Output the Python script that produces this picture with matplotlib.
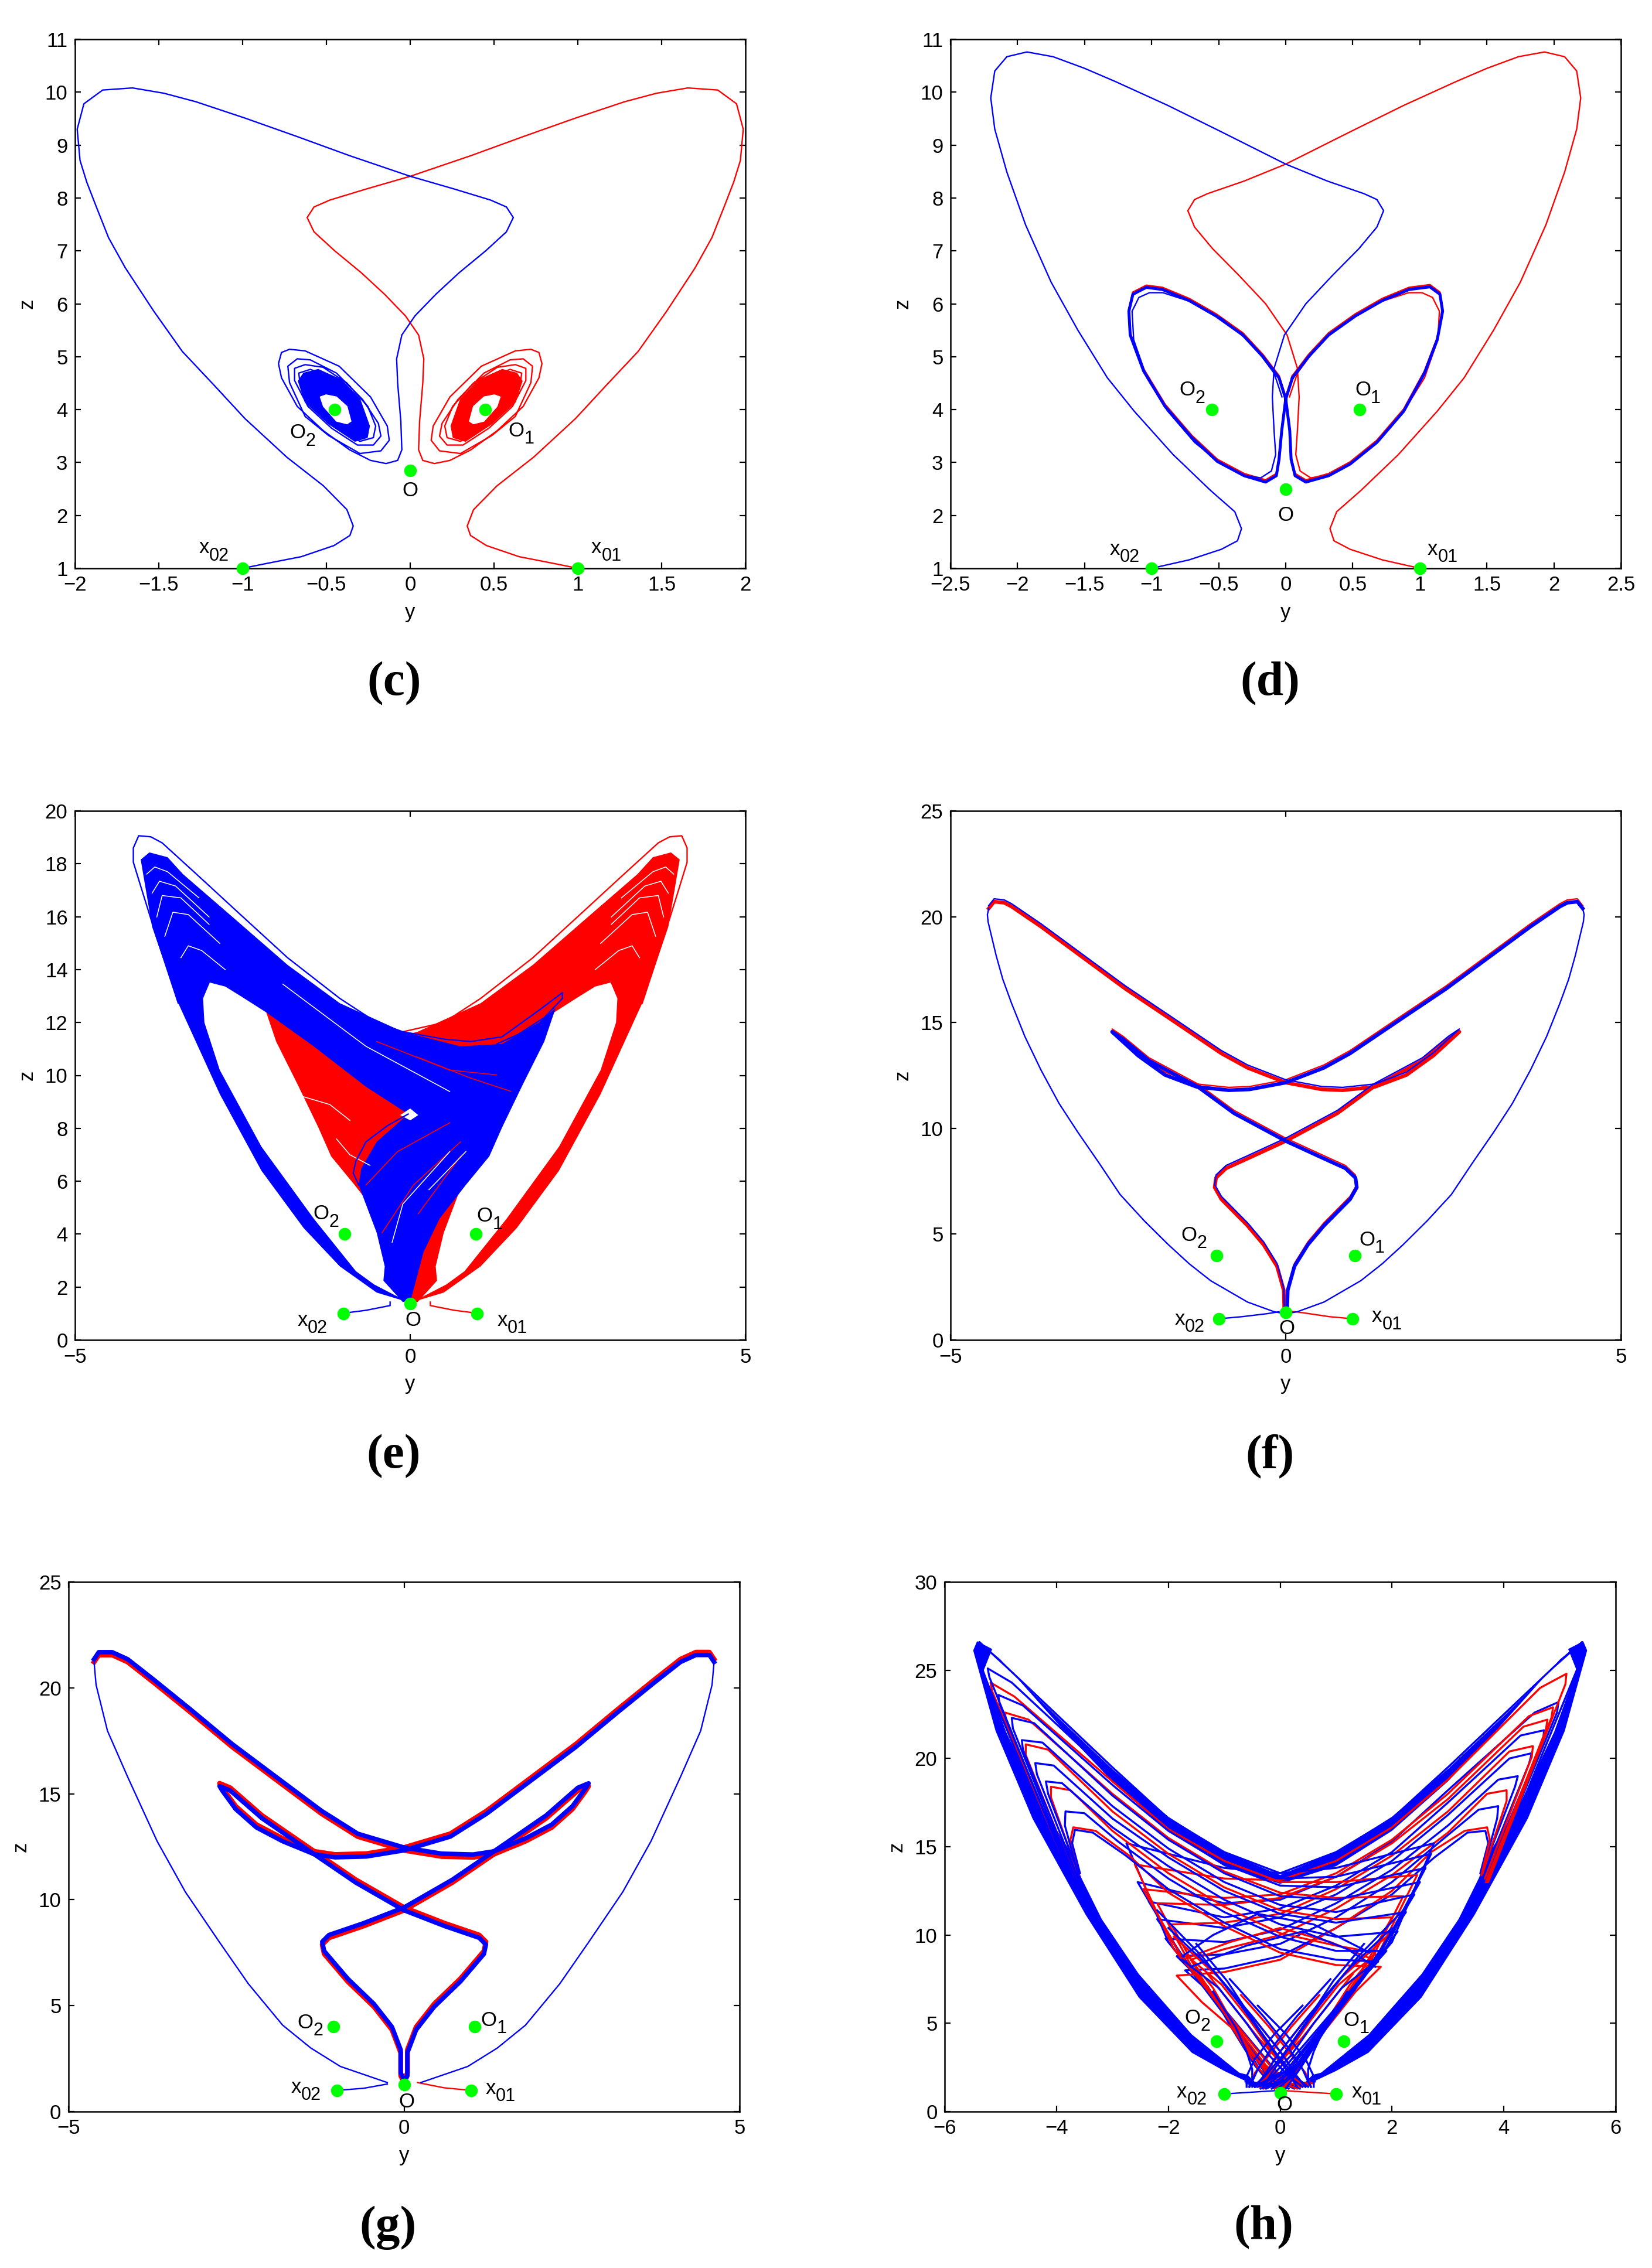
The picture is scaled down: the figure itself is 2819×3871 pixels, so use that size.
import matplotlib
matplotlib.use('Agg')
import matplotlib.pyplot as plt
from matplotlib.transforms import offset_copy

RED = '#ff0000'
BLUE = '#0000ff'
GREEN = '#00ff00'

plt.rcParams['font.family'] = ['Liberation Sans', 'DejaVu Sans']

# ---- panel (c)
c_red_y = [1, .86, .65, .455, .36, .34, .378, .518, .736, .986, 1.17, 1.36, 1.53, 1.7, 1.8, 1.875, 1.93, 1.97, 1.987, 1.947, 1.835, 1.657, 1.47, 1.28, .986, .674, .362, 0, -.262, -.48, -.574, -.615, -.574, -.45, -.293, -.153, -.028, .05, .081, .075, .056, .05, .075, .144, .237, .362, .518, .674, .768, .786, .768, .72, .627, .424, .237, .137, .125, .175, .3, .487, .627, .72, .73, .674, .596, .44, .284, .19, .175, .22, .315, .47, .61, .69, .69, .627, .52, .377, .253, .206, .22, .3, .456, .58, .658, .665, .596, .456]
c_red_z = [1, 1.09, 1.22, 1.43, 1.62, 1.8, 2.11, 2.56, 3.1, 3.83, 4.46, 5.1, 5.86, 6.68, 7.25, 7.85, 8.3, 8.71, 9.3, 9.78, 10.04, 10.08, 9.98, 9.82, 9.51, 9.16, 8.8, 8.41, 8.17, 7.96, 7.83, 7.63, 7.36, 7.0, 6.59, 6.18, 5.77, 5.41, 4.96, 4.5, 3.78, 3.24, 3.04, 2.98, 3.04, 3.24, 3.6, 4.06, 4.6, 4.87, 5.08, 5.14, 5.11, 4.82, 4.24, 3.69, 3.42, 3.22, 3.17, 3.51, 3.87, 4.51, 4.82, 4.96, 4.94, 4.69, 4.19, 3.74, 3.5, 3.33, 3.33, 3.65, 4.06, 4.55, 4.78, 4.85, 4.8, 4.5, 4.06, 3.69, 3.47, 3.4, 3.69, 4.06, 4.51, 4.69, 4.76, 4.6]
c_blue_y = [-1, -.86, -.65, -.455, -.36, -.34, -.378, -.518, -.736, -.986, -1.17, -1.36, -1.53, -1.7, -1.8, -1.875, -1.93, -1.97, -1.987, -1.947, -1.835, -1.657, -1.47, -1.28, -.986, -.674, -.362, 0, .262, .48, .574, .615, .574, .45, .293, .153, .028, -.05, -.081, -.075, -.056, -.05, -.075, -.144, -.237, -.362, -.518, -.674, -.768, -.786, -.768, -.72, -.627, -.424, -.237, -.137, -.125, -.175, -.3, -.487, -.627, -.72, -.73, -.674, -.596, -.44, -.284, -.19, -.175, -.22, -.315, -.47, -.61, -.69, -.69, -.627, -.52, -.377, -.253, -.206, -.22, -.3, -.456, -.58, -.658, -.665, -.596, -.456]
c_blue_z = c_red_z
c_core_y = [.243, .256, .33, .487, .627, .668, .636, .549, .409, .3]
c_core_z = [3.69, 3.47, 3.4, 3.73, 4.14, 4.54, 4.69, 4.76, 4.56, 4.2]
c_hole_y = [.353, .377, .44, .518, .537, .502, .44, .377]
c_hole_z = [3.78, 3.73, 3.78, 4.06, 4.24, 4.28, 4.24, 4.06]
c_core_blue_y = [-.243, -.256, -.33, -.487, -.627, -.668, -.636, -.549, -.409, -.3]
c_hole_blue_y = [-.353, -.377, -.44, -.518, -.537, -.502, -.44, -.377]

# ---- panel (d)
d_red_y = [1, .72, .48, .36, .33, .38, .56, .84, 1.13, 1.33, 1.55, 1.75, 1.94, 2.08, 2.17, 2.2, 2.17, 2.08, 1.93, 1.735, 1.5, 1.27, .88, .48, 0, -.31, -.585, -.68, -.73, -.68, -.545, -.35, -.15, .01, .087, .1, .087, .075, .107, .186, .32, .48, .68, .88, 1.035, 1.134, 1.146, 1.095, 1.016, .917, .72, .48, .245, .087, .028]
d_red_z = [1, 1.16, 1.36, 1.52, 1.75, 2.07, 2.47, 3.15, 3.97, 4.6, 5.5, 6.41, 7.49, 8.49, 9.3, 9.89, 10.4, 10.67, 10.76, 10.67, 10.45, 10.2, 9.75, 9.25, 8.64, 8.32, 8.08, 7.97, 7.76, 7.45, 7.04, 6.54, 6.0, 5.41, 4.78, 4.24, 3.6, 3.15, 2.84, 2.71, 2.76, 2.97, 3.38, 3.97, 4.6, 5.32, 5.86, 6.12, 6.21, 6.21, 6.05, 5.73, 5.23, 4.69, 4.24]
d_blue_y = [-1, -.72, -.48, -.36, -.33, -.38, -.56, -.84, -1.13, -1.33, -1.55, -1.75, -1.94, -2.08, -2.17, -2.2, -2.17, -2.08, -1.93, -1.735, -1.5, -1.27, -.88, -.48, 0, .31, .585, .68, .73, .68, .545, .35, .15, -.01, -.087, -.1, -.087, -.075, -.107, -.186, -.32, -.48, -.68, -.88, -1.035, -1.134, -1.146, -1.095, -1.016, -.917, -.72, -.48, -.245, -.087, -.028]
d_blue_z = d_red_z
d_cycle_y = [.05, .17, .32, .52, .72, .92, 1.075, 1.15, 1.17, 1.13, 1.035, .88, .68, .48, .32, .15, .07, .04, .03, 0, -.05, -.17, -.32, -.52, -.72, -.92, -1.04, -1.14, -1.17, -1.16, -1.06, -.9, -.7, -.51, -.31, -.15, -.07, -.05, -.03, 0, .05]
d_cycle_z = [4.6, 5.0, 5.41, 5.77, 6.06, 6.27, 6.32, 6.18, 5.86, 5.32, 4.69, 3.97, 3.38, 2.97, 2.75, 2.63, 2.75, 3.06, 3.6, 4.2, 4.6, 5.0, 5.41, 5.77, 6.06, 6.27, 6.31, 6.18, 5.86, 5.41, 4.73, 4.06, 3.47, 3.02, 2.75, 2.63, 2.75, 3.06, 3.6, 4.2, 4.6]

# ---- panel (e)
e_blue_poly_y = [-.03, -.5, -1.05, -1.59, -2.22, -2.84, -3.46, -3.85, -4.02, -3.89, -3.62, -3.39, -2.61, -1.83, -1.05, -.11, .75, 1.37, 1.92, 2.17, 2.0, 1.68, 1.37, 1.18, .83, .44, .2, .01, -.11, -.4, -.38, -.5, -.77, -.73, -.5, -.03, -.66, -1.44, -2.14, -2.53, -2.76, -2.99, -3.09, -3.07, -2.84, -2.22, -1.44, -.81, -.54]
e_blue_poly_z = [1.43, 1.79, 2.78, 4.23, 6.4, 9.29, 12.73, 15.62, 18.16, 18.43, 18.25, 17.61, 15.9, 14.18, 12.73, 11.65, 11.1, 11.19, 12.0, 12.55, 11.28, 9.66, 8.03, 6.94, 5.86, 4.59, 3.33, 1.52, 1.43, 2.24, 2.78, 4.05, 5.86, 6.49, 7.49, 8.54, 9.57, 11.1, 12.37, 13.0, 13.36, 13.51, 12.91, 12.0, 10.2, 7.31, 4.59, 2.6, 2.1]
e_red_poly_y = [.03, .5, 1.05, 1.59, 2.22, 2.84, 3.46, 3.85, 4.02, 3.89, 3.62, 3.39, 2.61, 1.83, 1.05, .11, -.75, -1.37, -1.92, -2.17, -2.0, -1.68, -1.37, -1.18, -.83, -.44, -.2, -.01, .11, .4, .38, .5, .77, .73, .5, .03, .66, 1.44, 2.14, 2.53, 2.76, 2.99, 3.09, 3.07, 2.84, 2.22, 1.44, .81, .54]
e_red_poly_z = e_blue_poly_z
e_blue_edge_y = [-3.46, -3.78, -4.01, -4.13, -4.13, -4.05, -3.87, -3.7, -3.15, -2.61, -1.83, -1.05, -.5, -.11, .51, .9, 1.37, 1.92, 2.27, 2.27, 2.0, 1.61, 1.29]
e_blue_edge_z = [12.73, 15.2, 17.07, 18.06, 18.6, 19.06, 19.02, 18.79, 17.52, 16.26, 14.45, 12.91, 12.0, 11.65, 11.37, 11.28, 11.46, 12.46, 13.13, 12.91, 12.19, 11.55, 11.19]
e_red_edge_y = [3.46, 3.78, 4.01, 4.13, 4.13, 4.05, 3.87, 3.7, 3.15, 2.61, 1.83, 1.05, .5, -.11]
e_red_edge_z = [12.73, 15.2, 17.07, 18.06, 18.6, 19.06, 19.02, 18.79, 17.52, 16.26, 14.45, 12.91, 12.0, 11.65]
e_blue_arc_y = [-.03, -.34, -.66, -.81, -.85, -.77]
e_blue_arc_z = [8.54, 8.1, 7.49, 6.76, 6.31, 5.86]
e_tail_blue_y = [-1, -.66, -.3, -.3]
e_tail_red_y = [1, .66, .3, .3]
e_tail_z = [1.01, 1.12, 1.3, 1.43]
e_white_y = [[-3.78, -3.7, -3.42, -3.0], [-3.66, -3.54, -3.31, -2.84], [-3.85, -3.74, -3.5, -3.0], [-3.42, -3.31, -3.11, -2.76], [-3.93, -3.81, -3.62, -3.15], [-1.9, -.66, .59], [-.27, -.11, .59], [.28, .83],
             [3.78, 3.7, 3.42, 3.0], [3.66, 3.54, 3.31, 2.84], [3.85, 3.74, 3.5, 3.0], [3.42, 3.31, 3.11, 2.76], [3.93, 3.81, 3.62, 3.15], [-1.6, -1.2, -.9], [-1.1, -.9, -.6]]
e_white_z = [[15.99, 16.8, 16.71, 15.71], [15.26, 16.17, 16.08, 14.99], [16.89, 17.34, 17.16, 15.99], [14.45, 14.9, 14.72, 14.0], [17.61, 17.88, 17.7, 16.71], [13.45, 11.1, 9.39], [3.69, 5.14, 7.12], [5.68, 7.12],
             [15.99, 16.8, 16.71, 15.71], [15.26, 16.17, 16.08, 14.99], [16.89, 17.34, 17.16, 15.99], [14.45, 14.9, 14.72, 14.0], [17.61, 17.88, 17.7, 16.71], [9.2, 8.9, 8.3], [7.6, 7.0, 6.6]]
e_strand_y = [[-.66, -.19, .59], [-.42, .05, .75], [.12, .75], [-.5, .59, 1.29], [.1, .9, 1.5]]
e_strand_z = [[5.86, 7.12, 8.21], [4.05, 5.86, 7.49], [4.77, 6.94], [11.28, 10.2, 10.02], [10.7, 9.9, 9.4]]
e_diamond_y = [0, .12, 0, -.15]
e_diamond_z = [8.3, 8.5, 8.75, 8.5]

# ---- panel (f): two halves of the same orbit
f_low_right_y = [.06, .17, .57, 1.12, 1.44, 1.75, 2.11, 2.47, 2.78, 3.1, 3.38, 3.65, 3.89, 4.09, 4.22, 4.32, 4.44, 4.45, 4.43]
f_low_right_z = [1.27, 1.33, 1.79, 2.8, 3.6, 4.5, 5.63, 6.87, 8.34, 9.81, 11.17, 12.75, 14.33, 15.91, 17.04, 18.17, 19.76, 20.1, 20.39]
f_low_left_y = [-.06, -.17, -.57, -1.12, -1.44, -1.75, -2.11, -2.47, -2.78, -3.1, -3.38, -3.65, -3.89, -4.09, -4.22, -4.32, -4.44, -4.45, -4.43]
f_low_left_z = f_low_right_z
f_a_y = [4.43, 4.35, 4.2, 4.09, 3.65, 3.02, 2.39, 1.75, .96, .57, 0, -.54, -.85, -1.33, -1.8, -2.2, -2.59, -2.43, -2.04, -1.31, -.77, 0, .57, .89, 1.04, 1.06, .96, .57, .33, .13, .03, .02]
f_a_z = [20.39, 20.71, 20.66, 20.48, 19.53, 18.06, 16.59, 15.23, 13.54, 12.86, 12.16, 11.84, 11.8, 11.96, 12.52, 13.43, 14.56, 14.22, 13.2, 11.96, 10.71, 9.4, 8.57, 8.11, 7.66, 7.21, 6.65, 5.4, 4.5, 3.48, 2.35, 1.33]
f_b_y = [-4.43, -4.35, -4.2, -4.09, -3.65, -3.02, -2.39, -1.75, -.96, -.57, 0, .54, .85, 1.33, 1.8, 2.2, 2.59, 2.43, 2.04, 1.31, .77, 0, -.57, -.89, -1.04, -1.06, -.96, -.57, -.33, -.13, -.03, -.02]
f_b_z = f_a_z
f_tail_red_y = [1, .65, .29, .15, .0]
f_tail_red_z = [1, 1.1, 1.27, 1.33, 1.36]
f_tail_blue_y = [-1, -.65, -.28, -.1]
f_tail_blue_z = [1, 1.1, 1.24, 1.33]

# ---- panel (g)
g_low_right_y = [.25, .95, 1.39, 1.81, 2.32, 2.75, 3.26, 3.68, 4.12, 4.42, 4.59, 4.62]
g_low_right_z = [1.37, 2.13, 3.0, 4.08, 6.03, 7.99, 10.37, 12.76, 15.8, 17.97, 20.14, 21.22]
g_low_left_y = [-.25, -.95, -1.39, -1.81, -2.32, -2.75, -3.26, -3.68, -4.12, -4.42, -4.59, -4.62]
g_low_left_z = g_low_right_z
g_a_y = [4.62, 4.55, 4.35, 4.12, 3.73, 3.18, 2.56, 1.78, 1.23, .69, 0, -.56, -1.03, -1.34, -1.81, -2.2, -2.51, -2.71, -2.75, -2.59, -2.12, -1.34, -.72, 0, .61, 1.12, 1.22, 1.19, .84, .45, .18, .05, .05, 0]
g_a_z = [21.22, 21.55, 21.55, 21.22, 20.25, 18.84, 17.21, 15.36, 14.06, 12.98, 12.33, 12.04, 12.0, 12.15, 12.76, 13.41, 14.28, 15.15, 15.36, 15.15, 13.85, 12.15, 10.81, 9.5, 8.75, 8.2, 7.88, 7.44, 6.14, 4.95, 3.86, 2.78, 1.69, 1.37]
g_b_y = [-4.62, -4.55, -4.35, -4.12, -3.73, -3.18, -2.56, -1.78, -1.23, -.69, 0, .56, 1.03, 1.34, 1.81, 2.2, 2.51, 2.71, 2.75, 2.59, 2.12, 1.34, .72, 0, -.61, -1.12, -1.22, -1.19, -.84, -.45, -.18, -.05, -.05, 0]
g_b_z = g_a_z
g_tail_red_y = [1, .6, .2]
g_tail_red_z = [1, 1.12, 1.37]
g_tail_blue_y = [-1, -.6, -.25]
g_tail_blue_z = [1, 1.1, 1.3]

# ---- panel (h)
h_band_left_y = [-.3, -1, -1.58, -2.53, -3.48, -4.43, -5.09, -5.49, -5.42, -5.15, -5.3, -4.9, -4.3, -3.73, -3.55, -3.19, -2.53, -1.58, -.73, -.58, -.4]
h_band_left_z = [1.25, 2.3, 3.33, 6.46, 11.15, 16.6, 21.56, 26.12, 26.64, 26.2, 25, 21.5, 17.5, 14.6, 13.2, 10.9, 7.8, 4.37, 2.2, 2.08, 1.5]
h_band_right_y = [.3, 1, 1.58, 2.53, 3.48, 4.43, 5.09, 5.49, 5.42, 5.15, 5.3, 4.9, 4.3, 3.73, 3.55, 3.19, 2.53, 1.58, .73, .58, .4]
h_band_right_z = h_band_left_z
h_vee_y = [-5.3, -4, -3, -2, -1, 0, 1, 2, 3, 4, 5.3, 5, 3.9, 3, 2, 1, 0, -1, -2, -3, -3.9, -5]
h_vee_z = [26.4, 22.4, 19.4, 16.7, 14.7, 13.4, 14.7, 16.7, 19.4, 22.4, 26.4, 25.6, 21.7, 18.7, 15.9, 13.9, 12.9, 13.9, 15.9, 18.7, 21.7, 25.6]
h_blue_left_y = [[-3.58, -3.72, -3.67, -3.35, -2.76, -2, -1, 0, 1, 1.75, 1.3, .8, .35, .1],
                 [-3.6, -3.85, -3.84, -3.5, -2.9, -2, -1, 0, 1, 1.9, 1.4, .7, .3, -.05],
                 [-3.62, -4.15, -4.19, -3.9, -3, -2, -1, 0, 1, 2.1, 1.5, .6, .2, -.15],
                 [-3.64, -4.35, -4.38, -4.05, -3, -2, -1, 0, 1, 2.25, 1.5, .5, .1, -.25],
                 [-3.66, -4.6, -4.62, -4.25, -3, -2, -1, 0, 1, 2.4, 1.6, .4, 0, -.35],
                 [-3.68, -4.78, -4.8, -4.4, -3, -2, -1, 0, 1, 2.5, 1.7, .3, -.1, -.45],
                 [-3.7, -5.02, -5.04, -4.6, -3, -2, -1, 0, 1, 2.6, 1.8, .2, -.2, -.55],
                 [-3.72, -5.2, -5.23, -4.8, -3, -2, -1, 0, 1, 2.7, 1.9, .1, -.3, -.6],
                 [-3.75, -5.45, -5.38, -4.9, -3, -2, -1, 0, 1, 2.75, 2, 0, -.35, -.62]]
h_blue_left_z = [[13.5, 15.2, 15.96, 15.8, 14.5, 12.6, 10.7, 9.2, 8.6, 8.5, 7, 4.6, 2.4, 1.3],
                 [13.3, 16.2, 17, 16.9, 15.3, 13.2, 11.3, 9.9, 9.1, 9.1, 7.3, 4.2, 2.2, 1.3],
                 [13.6, 18, 18.7, 18.6, 16.1, 13.9, 12, 10.6, 9.9, 10.2, 7.6, 3.8, 2, 1.3],
                 [13.4, 19.1, 19.74, 19.6, 16.6, 14.4, 12.5, 11.2, 10.7, 11.3, 7.8, 3.4, 1.8, 1.3],
                 [13.2, 20.5, 21.04, 20.9, 17.3, 14.9, 13, 11.7, 11.3, 12.3, 8.1, 3, 1.7, 1.3],
                 [13, 21.7, 22.3, 22, 17.9, 15.4, 13.5, 12.2, 12, 13, 8.6, 2.7, 1.6, 1.4],
                 [13, 23.1, 23.6, 23, 18.5, 15.9, 14, 12.8, 12.7, 13.8, 9, 2.5, 1.6, 1.5],
                 [13, 24.6, 25.1, 24.3, 19, 16.3, 14.4, 13.2, 13.3, 14.6, 9.3, 2.3, 1.6, 1.6],
                 [13, 25.9, 26.6, 25.2, 19.5, 16.6, 14.7, 13.5, 13.8, 15.2, 9.6, 2.2, 1.6, 1.7]]
h_blue_right_y = [[3.58, 3.72, 3.67, 3.35, 2.76, 2, 1, 0, -1, -1.7, -1.2, -.9, -.45, -.1],
                  [3.6, 3.88, 3.9, 3.55, 2.9, 2, 1, 0, -1, -1.85, -1.3, -.75, -.35, .05],
                  [3.62, 4.2, 4.25, 3.9, 3, 2, 1, 0, -1, -2.05, -1.45, -.65, -.25, .15],
                  [3.64, 4.45, 4.5, 4.1, 3, 2, 1, 0, -1, -2.2, -1.5, -.55, -.15, .25],
                  [3.66, 4.7, 4.72, 4.3, 3, 2, 1, 0, -1, -2.35, -1.6, -.45, -.05, .35],
                  [3.7, 4.95, 4.98, 4.55, 3, 2, 1, 0, -1, -2.55, -1.75, -.3, .1, .5],
                  [3.75, 5.42, 5.4, 4.9, 3, 2, 1, 0, -1, -2.75, -2, -.05, .35, .62]]
h_blue_right_z = [[13.5, 15.2, 15.9, 15.8, 14.4, 12.3, 10.4, 8.8, 8.1, 8, 6.6, 4.9, 2.6, 1.3],
                  [13.3, 16.6, 17.3, 17.1, 15.4, 13, 11, 9.5, 8.9, 8.8, 7.1, 4.4, 2.3, 1.3],
                  [13.6, 18.4, 19, 18.8, 16.2, 13.7, 11.8, 10.3, 9.6, 9.8, 7.4, 4, 2.1, 1.3],
                  [13.4, 19.7, 20.3, 20, 16.8, 14.2, 12.3, 11, 10.4, 10.9, 7.7, 3.6, 1.9, 1.3],
                  [13.2, 21, 21.6, 21.3, 17.5, 14.7, 12.8, 11.5, 11, 11.9, 8, 3.2, 1.8, 1.3],
                  [13, 22.6, 23.2, 22.6, 18.2, 15.3, 13.3, 12, 11.8, 13, 8.7, 2.7, 1.6, 1.5],
                  [13, 25.9, 26.6, 25.2, 19.5, 16.6, 14.7, 13.5, 13.8, 15.2, 9.6, 2.2, 1.6, 1.7]]
h_red_left_y = [[-3.6, -3.75, -3.7, -3.3, -2.7, -2, -1, 0, 1, 1.8, 1.35, .75, .3, .05],
                [-3.62, -4.1, -4.1, -3.75, -3, -2, -1, 0, 1, 1.7, 1.25, .6, .2, -.1],
                [-3.66, -4.55, -4.55, -4.15, -3, -2, -1, 0, 1, 2, 1.45, .45, .05, -.3],
                [-3.7, -4.9, -4.92, -4.5, -3, -2, -1, 0, 1, 2.2, 1.6, .3, -.1, -.45],
                [-3.72, -5.15, -5.18, -4.75, -3, -2, -1, 0, 1, 2.45, 1.75, .15, -.25, -.55]]
h_red_left_z = [[13.4, 15.4, 16.1, 15.9, 14.5, 12.4, 10.5, 9, 8.3, 8.2, 6.8, 4.4, 2.3, 1.3],
                [13.5, 17.8, 18.4, 18.2, 15.9, 13.5, 11.6, 10.1, 9.4, 9, 7.2, 4, 2.1, 1.3],
                [13.2, 20.2, 20.8, 20.5, 17, 14.6, 12.7, 11.4, 10.9, 11, 7.9, 3.2, 1.7, 1.3],
                [13, 22, 22.6, 22.2, 18, 15.5, 13.6, 12.4, 12.1, 12.2, 8.4, 2.6, 1.6, 1.4],
                [13, 23.8, 24.3, 23.5, 18.7, 16, 14.2, 13, 13, 13.4, 8.9, 2.4, 1.6, 1.6]]
h_red_right_y = [[3.6, 3.75, 3.7, 3.3, 2.7, 2, 1, 0, -1, -1.85, -1.4, -.85, -.4, -.05],
                 [3.62, 4.05, 4.05, 3.7, 3, 2, 1, 0, -1, -1.6, -1.2, -.7, -.25, .1],
                 [3.66, 4.5, 4.52, 4.1, 3, 2, 1, 0, -1, -1.95, -1.45, -.55, -.1, .3],
                 [3.68, 4.75, 4.78, 4.35, 3, 2, 1, 0, -1, -2.2, -1.6, -.4, .05, .4],
                 [3.7, 4.85, 4.88, 4.45, 3, 2, 1, 0, -1, -2.45, -1.75, -.25, .15, .5],
                 [3.72, 5.1, 5.12, 4.65, 3, 2, 1, 0, -1, -2.6, -1.9, -.1, .3, .6]]
h_red_right_z = [[13.4, 15.4, 16.1, 15.9, 14.7, 12.5, 10.4, 8.6, 7.9, 7.7, 6.2, 4.7, 2.5, 1.3],
                 [13.5, 17.6, 18.2, 18, 15.8, 13.4, 11.5, 10, 9.2, 8.6, 7, 4.2, 2.2, 1.3],
                 [13.2, 20.1, 20.7, 20.4, 17, 14.5, 12.6, 11.2, 10.7, 10.6, 7.8, 3.4, 1.8, 1.3],
                 [13, 21.6, 22.2, 21.8, 17.7, 15.2, 13.3, 12.1, 11.7, 11.8, 8.3, 2.9, 1.7, 1.4],
                 [13, 22.3, 22.9, 22.4, 18, 15.4, 13.5, 12.3, 12.1, 12.6, 8.7, 2.6, 1.6, 1.5],
                 [13, 24.2, 24.8, 24, 18.8, 16.1, 14.2, 13.1, 13.2, 14, 9.2, 2.3, 1.6, 1.6]]
# strands of the lattice under the V, each from a fan tip down to the neck
h_mesh_blue_y = [[-1.75, -1.1, -.6, -.2, .15, .4], [-1.5, -.95, -.45, -.05, .3, .5], [-1.2, -.8, -.6, -.5, -.5, -.55],
                 [-.9, -.3, .15, .4, .5, .55], [-.4, .1, .45, .6, .6], [-2, -1.2, -.5, 0, .3, .45],
                 [-2.2, -1.4, -.7, -.2, .15, .3], [1.75, 1.1, .6, .2, -.15, -.4], [1.5, .95, .45, .05, -.3, -.5],
                 [1.2, .8, .6, .5, .5, .55], [.9, .3, -.15, -.4, -.5, -.55], [.4, -.1, -.45, -.6, -.6],
                 [2, 1.2, .5, 0, -.3, -.45], [2.2, 1.4, .7, .2, -.15, -.3], [-1.6, -.6, .4, 1.2, 1.7], [1.6, .6, -.4, -1.2, -1.75]]
h_mesh_blue_z = [[8.6, 7, 5, 3.2, 2, 1.4], [9.5, 7.4, 5, 3.2, 1.9, 1.4], [6.8, 4.8, 3.4, 2.4, 1.7, 1.4],
                 [7.5, 5.4, 3.6, 2.4, 1.7, 1.4], [6, 4.4, 3, 2, 1.4], [10.4, 8, 5.4, 3.4, 2, 1.4],
                 [11.4, 8.8, 6, 3.8, 2.2, 1.4], [8.6, 7, 5, 3.2, 2, 1.4], [9.5, 7.4, 5, 3.2, 1.9, 1.4],
                 [6.8, 4.8, 3.4, 2.4, 1.7, 1.4], [7.5, 5.4, 3.6, 2.4, 1.7, 1.4], [6, 4.4, 3, 2, 1.4],
                 [10.4, 8, 5.4, 3.4, 2, 1.4], [11.4, 8.8, 6, 3.8, 2.2, 1.4], [8.2, 9.4, 10.2, 9.2, 8.2], [9, 10.6, 11.2, 10, 8.8]]
h_mesh_red_y = [[-1.7, -1.05, -.55, -.15, .2, .35], [-1.3, -.85, -.4, 0, .3, .45], [-.7, -.2, .2, .45, .55],
                [-1.9, -1.1, -.4, .1, .35], [1.7, 1.05, .55, .15, -.2, -.35], [1.3, .85, .4, 0, -.3, -.45],
                [.7, .2, -.2, -.45, -.55], [1.9, 1.1, .4, -.1, -.35], [-1.75, -.9, 0, .9, 1.75]]
h_mesh_red_z = [[8.9, 7.2, 5.2, 3.4, 2.1, 1.4], [7.8, 6, 4.2, 2.8, 1.8, 1.4], [6.6, 4.8, 3.2, 2.2, 1.4],
                [9.9, 7.6, 5, 3, 1.5], [8.9, 7.2, 5.2, 3.4, 2.1, 1.4], [7.8, 6, 4.2, 2.8, 1.8, 1.4],
                [6.6, 4.8, 3.2, 2.2, 1.4], [9.9, 7.6, 5, 3, 1.5], [8.6, 9.6, 10.4, 9.6, 8.5]]
h_tail_blue_y = [-1, -.5, 0]
h_tail_red_y = [1, .5, 0]
h_tail_z = [1, 1.1, 1.2]

# ---- equilibrium points and labels, one entry per panel: O2, O1, O, x02, x01
mark_y = {'c': [-.45, .446, 0, -1, 1], 'd': [-.55, .55, 0, -1, 1], 'e': [-.98, .98, 0, -1, 1],
          'f': [-1.03, 1.03, 0, -1, 1], 'g': [-1.05, 1.05, 0, -1, 1], 'h': [-1.14, 1.14, 0, -1, 1]}
mark_z = {'c': [4, 4, 2.85, 1, 1], 'd': [4, 4, 2.5, 1, 1], 'e': [4, 4, 1.37, 1, 1],
          'f': [4, 4, 1.29, 1, 1], 'g': [4, 4, 1.26, 1, 1], 'h': [3.98, 3.98, 1.07, 1, 1]}
label_y = {'c': [-.645, .66, 0, -1.17, 1.17], 'd': [-.7, .61, 0, -1.2, 1.17], 'e': [-1.26, 1.18, .04, -1.46, 1.52],
           'f': [-1.37, 1.28, .02, -1.43, 1.51], 'g': [-1.4, 1.33, .04, -1.46, 1.44], 'h': [-1.48, 1.36, .08, -1.58, 1.55]}
label_z = {'c': [3.56, 3.6, 2.47, 1.39, 1.39], 'd': [4.37, 4.37, 2.0, 1.36, 1.36], 'e': [4.77, 4.68, .74, .74, .74],
           'f': [4.95, 4.72, .54, .99, 1.11], 'g': [4.19, 4.3, .46, 1.15, 1.09], 'h': [5.29, 5.16, .39, 1.12, 1.12]}
label_base = ['O', 'O', 'O', 'x', 'x']
label_sub = ['2', '1', '', '02', '01']

# axes box in image pixels: left, top, right, bottom
boxes = {'c': (128, 67, 1272, 970), 'd': (1622, 67, 2766, 970), 'e': (128, 1384, 1272, 2287),
         'f': (1622, 1384, 2766, 2287), 'g': (117, 2700, 1262, 3604), 'h': (1612, 2700, 2757, 3604)}
x_ticks = {'c': [-2, -1.5, -1, -.5, 0, .5, 1, 1.5, 2], 'd': [-2.5, -2, -1.5, -1, -.5, 0, .5, 1, 1.5, 2, 2.5],
           'e': [-5, 0, 5], 'f': [-5, 0, 5], 'g': [-5, 0, 5], 'h': [-6, -4, -2, 0, 2, 4, 6]}
z_ticks = {'c': list(range(1, 12)), 'd': list(range(1, 12)), 'e': [0, 2, 4, 6, 8, 10, 12, 14, 16, 18, 20],
           'f': [0, 5, 10, 15, 20, 25], 'g': [0, 5, 10, 15, 20, 25], 'h': [0, 5, 10, 15, 20, 25, 30]}
captions = {'c': (673, 1167), 'd': (2167, 1167), 'e': (672, 2486), 'f': (2167, 2486), 'g': (662, 3802), 'h': (2156, 3802)}

W, H = 2819, 3871
fig = plt.figure(figsize=(W / 100, H / 100), dpi=100)
fig.patch.set_facecolor('white')


def tick_text(v):
    return f'{v:g}'.replace('-', '\u2212')


axes = {}
for key, (l, t, r, b) in boxes.items():
    ax = fig.add_axes([l / W, 1 - b / H, (r - l) / W, (b - t) / H])
    ax.set_xlim(x_ticks[key][0], x_ticks[key][-1])
    ax.set_ylim(z_ticks[key][0], z_ticks[key][-1])
    ax.set_xticks(x_ticks[key], [tick_text(v) for v in x_ticks[key]])
    ax.set_yticks(z_ticks[key], [tick_text(v) for v in z_ticks[key]])
    ax.tick_params(direction='in', top=True, right=True, length=7, width=1.6, labelsize=25, pad=9)
    for s in ax.spines.values():
        s.set_linewidth(1.8)
    ax.set_xlabel('y', fontsize=25, labelpad=10)
    ax.set_ylabel('z', fontsize=25, labelpad=10)
    axes[key] = ax
    cx, cy = captions[key]
    fig.text(cx / W, 1 - cy / H, f'({key})', family='Liberation Serif', weight='bold', fontsize=60, ha='center', va='center')

THIN = 1.7

# (c)
ax = axes['c']
ax.plot(c_red_y, c_red_z, color=RED, lw=THIN)
ax.plot(c_blue_y, c_blue_z, color=BLUE, lw=THIN)
ax.fill(c_core_y, c_core_z, color=RED)
ax.fill(c_hole_y, c_hole_z, color='white', zorder=3)
ax.fill(c_core_blue_y, c_core_z, color=BLUE)
ax.fill(c_hole_blue_y, c_hole_z, color='white', zorder=3)

# (d)
ax = axes['d']
up = offset_copy(ax.transData, fig=fig, x=0, y=2.5, units='points')
ax.plot(d_red_y, d_red_z, color=RED, lw=THIN)
ax.plot(d_cycle_y, d_cycle_z, color=RED, lw=2.2, transform=up)
ax.plot(d_blue_y, d_blue_z, color=BLUE, lw=THIN)
ax.plot(d_cycle_y, d_cycle_z, color=BLUE, lw=3.6)

# (e)
ax = axes['e']
ax.fill(e_red_poly_y, e_red_poly_z, color=RED, lw=0)
ax.plot(e_red_edge_y, e_red_edge_z, color=RED, lw=THIN)
ax.plot(e_tail_red_y, e_tail_z, color=RED, lw=THIN)
ax.fill(e_blue_poly_y, e_blue_poly_z, color=BLUE, lw=0)
for sy, sz in zip(e_strand_y, e_strand_z):
    ax.plot(sy, sz, color=RED, lw=1.2)
for sy, sz in zip(e_white_y, e_white_z):
    ax.plot(sy, sz, color='white', lw=1.1)
ax.fill(e_diamond_y, e_diamond_z, color='white', lw=0)
ax.plot(e_blue_edge_y, e_blue_edge_z, color=BLUE, lw=THIN)
ax.plot(e_blue_arc_y, e_blue_arc_z, color=BLUE, lw=THIN)
ax.plot(e_tail_blue_y, e_tail_z, color=BLUE, lw=THIN)

# (f)
ax = axes['f']
up = offset_copy(ax.transData, fig=fig, x=0, y=3.5, units='points')
ax.plot(f_a_y, f_a_z, color=RED, lw=THIN, transform=up)
ax.plot(f_b_y, f_b_z, color=RED, lw=4.5)
ax.plot(f_tail_red_y, f_tail_red_z, color=RED, lw=THIN)
ax.plot(f_low_right_y, f_low_right_z, color=BLUE, lw=THIN)
ax.plot(f_low_left_y, f_low_left_z, color=BLUE, lw=THIN)
ax.plot(f_a_y, f_a_z, color=BLUE, lw=4.5)
ax.plot(f_b_y, f_b_z, color=BLUE, lw=THIN, transform=up)
ax.plot(f_tail_blue_y, f_tail_blue_z, color=BLUE, lw=THIN)

# (g)
ax = axes['g']
up = offset_copy(ax.transData, fig=fig, x=0, y=3.5, units='points')
ax.plot(g_a_y, g_a_z, color=RED, lw=6, transform=up)
ax.plot(g_b_y, g_b_z, color=RED, lw=6)
ax.plot(g_tail_red_y, g_tail_red_z, color=RED, lw=THIN)
ax.plot(g_low_right_y, g_low_right_z, color=BLUE, lw=THIN)
ax.plot(g_low_left_y, g_low_left_z, color=BLUE, lw=THIN)
ax.plot(g_a_y, g_a_z, color=BLUE, lw=5.5)
ax.plot(g_b_y, g_b_z, color=BLUE, lw=5.5, transform=up)
ax.plot(g_tail_blue_y, g_tail_blue_z, color=BLUE, lw=THIN)

# (h)
ax = axes['h']
ax.fill(h_band_left_y, h_band_left_z, color=BLUE, lw=0)
ax.fill(h_band_right_y, h_band_right_z, color=BLUE, lw=0)
ax.fill(h_vee_y, h_vee_z, color=BLUE, lw=0)
for sy, sz in zip(h_blue_right_y, h_blue_right_z):
    ax.plot(sy, sz, color=BLUE, lw=2.4)
for sy, sz in zip(h_mesh_red_y, h_mesh_red_z):
    ax.plot(sy, sz, color=RED, lw=2.4)
for sy, sz in zip(h_red_left_y, h_red_left_z):
    ax.plot(sy, sz, color=RED, lw=2.4)
for sy, sz in zip(h_red_right_y, h_red_right_z):
    ax.plot(sy, sz, color=RED, lw=2.4)
for sy, sz in zip(h_mesh_blue_y, h_mesh_blue_z):
    ax.plot(sy, sz, color=BLUE, lw=2.4)
for sy, sz in zip(h_blue_left_y, h_blue_left_z):
    ax.plot(sy, sz, color=BLUE, lw=2.4)
ax.plot(h_tail_red_y, h_tail_z, color=RED, lw=THIN)
ax.plot(h_tail_blue_y, h_tail_z, color=BLUE, lw=THIN)

# equilibrium points and their names on every panel
for key, ax in axes.items():
    ax.plot(mark_y[key], mark_z[key], 'o', color=GREEN, ms=15.5, mew=0, zorder=6, clip_on=False)
    for ty, tz, base, sub in zip(label_y[key], label_z[key], label_base, label_sub):
        shift = {'': 0, '1': 4, '2': 4, '01': -6, '02': -6}[sub]
        ax.annotate(base, (ty, tz), xytext=(shift, 0), textcoords='offset points', fontsize=25,
                    ha='right' if sub else 'center', va='center', zorder=7)
        if sub:
            ax.annotate(sub, (ty, tz), xytext=(shift, -10), textcoords='offset points', fontsize=22,
                        ha='left', va='center', zorder=7)

fig.savefig('out.png', dpi=100)
